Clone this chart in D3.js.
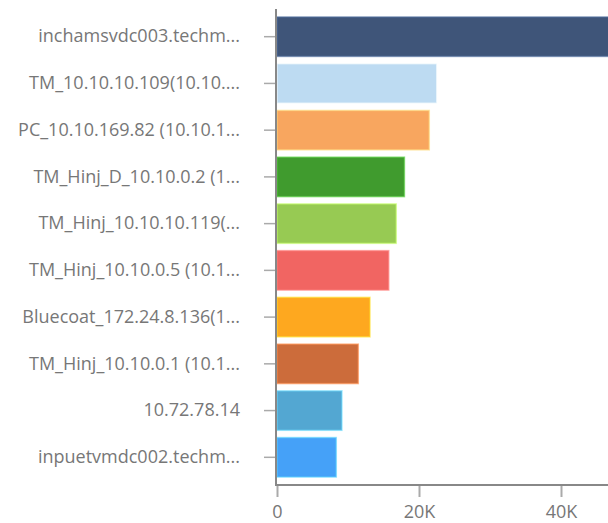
<!DOCTYPE html>
<html>
<head>
<meta charset="utf-8">
<script src="https://cdn.jsdelivr.net/npm/d3@7"></script>
<style>
  body { margin: 0; background: #fff; overflow: hidden; }
  .axis-label { font-family: "Open Sans", sans-serif; font-size: 18px; fill: #777; }
</style>
</head>
<body>
<div id="chart"></div>
<script>
// Data
const hosts = [
    "inchamsvdc003.techm...",
    "TM_10.10.10.109(10.10....",
    "PC_10.10.169.82 (10.10.1...",
    "TM_Hinj_D_10.10.0.2 (1...",
    "TM_Hinj_10.10.10.119(...",
    "TM_Hinj_10.10.0.5 (10.1...",
    "Bluecoat_172.24.8.136(1...",
    "TM_Hinj_10.10.0.1 (10.1...",
    "10.72.78.14",
    "inpuetvmdc002.techm..."
];
const counts = [49000, 22500, 21450, 17950, 16800, 15750, 13100, 11450, 9150, 8350];
const colors = ["#3f5579", "#bddbf2", "#f8a65f", "#409b2e", "#97ca53", "#f16562", "#fea81f", "#cc6c3b", "#53a7d2", "#45a1f8"];
const xTicks = [0, 20000, 40000];

// Dimensions
const width = 608, height = 523;
const margin = { top: 9, left: 277, bottom: 38 };

const svg = d3.select("#chart")
    .append("svg")
    .attr("width", width)
    .attr("height", height);

// Scales
const x = d3.scaleLinear().domain([0, 20000]).range([margin.left, margin.left + 142]);
const y = d3.scaleBand().domain(hosts)
    .range([margin.top, height - margin.bottom])
    .paddingInner(0.155)
    .paddingOuter(0.17);

// Bars
svg.selectAll(".bar")
    .data(hosts)
    .enter()
    .append("rect")
    .attr("class", "bar")
    .attr("x", x(0))
    .attr("y", d => y(d))
    .attr("width", (d, i) => x(counts[i]) - x(0))
    .attr("height", y.bandwidth())
    .attr("fill", (d, i) => colors[i])
    .attr("stroke", (d, i) => d3.color(colors[i]).brighter(0.8))
    .attr("stroke-width", 1.5)
    .attr("stroke-opacity", 0.6);

// Y axis
const yAxis = svg.append("g")
    .attr("transform", `translate(${margin.left - 1},0)`)
    .call(d3.axisLeft(y).tickSize(12).tickPadding(24));
yAxis.select(".domain").remove();
yAxis.selectAll(".tick line").attr("stroke", "#aaa").attr("stroke-width", 1.5);
yAxis.selectAll(".tick text").attr("class", "axis-label").attr("fill", null);

svg.append("line")
    .attr("x1", margin.left - 1).attr("x2", margin.left - 1)
    .attr("y1", margin.top).attr("y2", height - margin.bottom + 1)
    .attr("stroke", "#888").attr("stroke-width", 2);

// X axis
const xAxis = svg.append("g")
    .attr("transform", `translate(0,${height - margin.bottom})`)
    .call(d3.axisBottom(x).tickValues(xTicks).tickSize(12).tickPadding(8)
        .tickFormat(d => d === 0 ? "0" : d3.format("~s")(d).replace("k", "K")));
xAxis.select(".domain").remove();
xAxis.selectAll(".tick line").attr("stroke", "#aaa").attr("stroke-width", 2);
xAxis.selectAll(".tick text").attr("class", "axis-label").attr("fill", null);

svg.append("line")
    .attr("x1", margin.left - 2).attr("x2", width)
    .attr("y1", height - margin.bottom).attr("y2", height - margin.bottom)
    .attr("stroke", "#888").attr("stroke-width", 2);
</script>
</body>
</html>
